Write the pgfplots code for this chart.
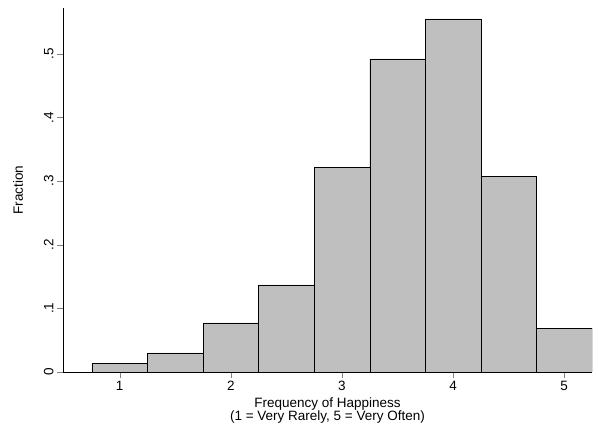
\documentclass[border=0pt]{standalone}
\usepackage{pgfplots}
\pgfplotsset{compat=1.18}
\usepackage{fontspec}
\setmainfont{Liberation Sans}
\begin{document}
\begin{tikzpicture}
\begin{axis}[
  scale only axis,
  width=529pt, height=364pt,
  axis lines*=left,
  xmin=0.49, xmax=5.25, ymin=0, ymax=0.572,
  xtick={1,2,3,4,5},
  ytick={0,0.1,0.2,0.3,0.4,0.5},
  yticklabels={0,.1,.2,.3,.4,.5},
  yticklabel style={rotate=90, font=\fontsize{13.5}{15}\selectfont},
  xticklabel style={font=\fontsize{13.5}{15}\selectfont},
  tick align=outside, tick pos=left,
  major tick length=6pt,
  xlabel={Frequency of Happiness\\(1 = Very Rarely, 5 = Very Often)},
  xlabel style={align=center, font=\fontsize{13.5}{13}\selectfont, yshift=0pt},
  ylabel={Fraction}, ylabel style={font=\fontsize{13.5}{15}\selectfont, yshift=14pt},
  /pgf/number format/assume math mode=true,
]
\addplot[ybar interval, fill=gray!50, draw=black] coordinates {
(0.75,0.014) (1.25,0.030) (1.75,0.077) (2.25,0.137) (2.75,0.322)
(3.25,0.492) (3.75,0.555) (4.25,0.307) (4.75,0.069) (5.25,0.069)};
\end{axis}
\useasboundingbox (-63pt,-63pt) rectangle (535pt,372pt);
\end{tikzpicture}
\end{document}
